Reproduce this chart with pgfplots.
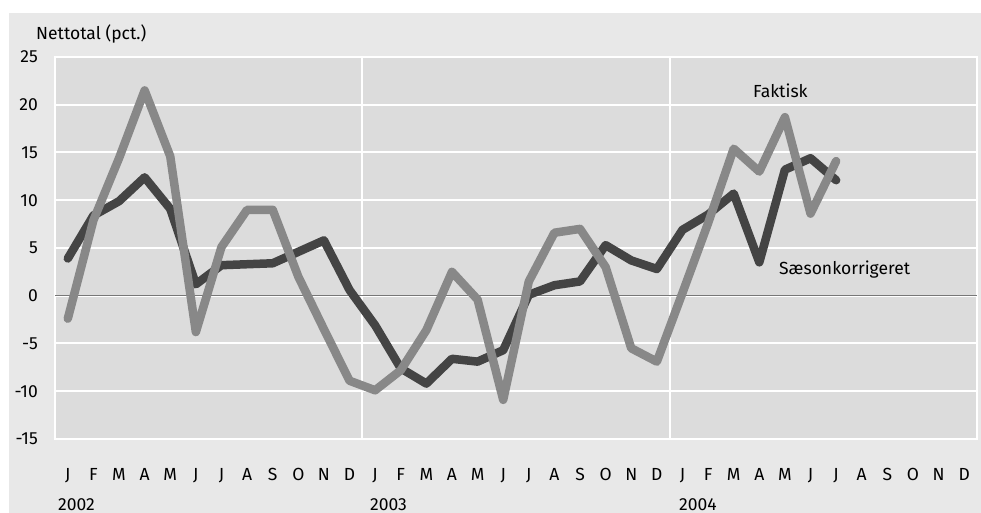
\documentclass[border=0pt]{standalone}
\usepackage{fontspec}
\setmainfont{Fira Sans}
\usepackage{pgfplots}
\pgfplotsset{compat=1.18}

\definecolor{panel}{HTML}{E8E8E8}
\definecolor{plotbg}{HTML}{DCDCDC}
\definecolor{faktisk}{HTML}{888888}
\definecolor{saeson}{HTML}{444444}
\definecolor{zeroline}{HTML}{777777}

\pgfplotstableread{
m  faktisk saeson
0  -2.4    3.9
1   7.9    8.4
2  14.4    9.9
3  21.5   12.4
4  14.6    9.1
5  -3.8    1.2
6   5.1    3.2
7   9.0    3.3
8   9.0    3.4
9   2.0    4.6
10 -3.5    5.8
11 -8.9    0.6
12 -9.9   -3.1
13 -7.8   -7.6
14 -3.6   -9.2
15  2.5   -6.6
16 -0.4   -6.9
17 -10.9  -5.7
18  1.5    0.1
19  6.6    1.1
20  7.0    1.5
21  3.0    5.3
22 -5.5    3.7
23 -6.9    2.8
24  0.3    6.9
25  7.6    8.5
26 15.4   10.7
27 13.0    3.5
28 18.7   13.2
29  8.6   14.4
30 14.1   12.1
}\data

\begin{document}
\begin{tikzpicture}[font=\fontsize{17.5bp}{20bp}\selectfont]
  % white page and light grey panel
  \fill[white] (0,0) rectangle (981bp,513bp);
  \fill[panel] (9bp,0) rectangle (981bp,500bp);

  \begin{axis}[
    at={(55bp,74bp)}, anchor=south west,
    scale only axis,
    width=922bp, height=382bp,
    xmin=-0.5, xmax=35.5,
    ymin=-15, ymax=25,
    axis background/.style={fill=plotbg},
    axis line style={white, line width=2bp},
    xtick={0,...,35},
    xticklabels={J,F,M,A,M,J,J,A,S,O,N,D,J,F,M,A,M,J,J,A,S,O,N,D,J,F,M,A,M,J,J,A,S,O,N,D},
    xticklabel style={anchor=base, yshift=-41.5bp, inner sep=0pt},
    ytick={-15,-10,...,25},
    yticklabels={-15,-10,-5,0,5,10,15,20,25},
    yticklabel style={anchor=east, inner sep=0pt, xshift=-17bp},
    major tick length=0pt,
    ymajorgrids,
    major grid style={white, line width=2bp},
    clip=false,
  ]
    % year dividers and zero line
    \draw[white, line width=2bp] (axis cs:11.5,-15) -- (axis cs:11.5,25);
    \draw[white, line width=2bp] (axis cs:23.5,-15) -- (axis cs:23.5,25);
    \draw[zeroline, line width=1.3bp] (axis cs:-0.5,0) -- (axis cs:35.5,0);

    \addplot[saeson, line width=8.5bp, line join=round, line cap=round] table[x=m, y=saeson] {\data};
    \addplot[faktisk, line width=8.5bp, line join=round, line cap=round] table[x=m, y=faktisk] {\data};
  \end{axis}

  % texts
  \node[anchor=base west, inner sep=0pt] at (36bp,473.5bp) {Nettotal (pct.)};
  \node[anchor=base west, inner sep=0pt] at (753bp,415.7bp) {Faktisk};
  \node[anchor=base west, inner sep=0pt] at (779bp,238bp) {Sæsonkorrigeret};
  \node[anchor=base west, inner sep=0pt] at (58bp,3bp) {2002};
  \node[anchor=base west, inner sep=0pt] at (370bp,3bp) {2003};
  \node[anchor=base west, inner sep=0pt] at (679bp,3bp) {2004};
\end{tikzpicture}
\end{document}
